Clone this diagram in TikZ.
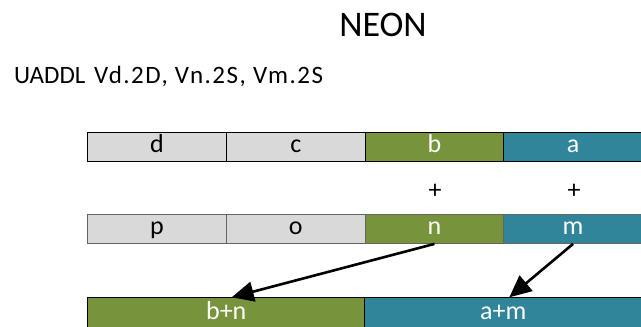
\documentclass[tikz,border=0pt]{standalone}
\usepackage{fontspec}
\setmainfont{Carlito}
\usetikzlibrary{arrows.meta}
\definecolor{cellgray}{RGB}{217,217,217}
\definecolor{cellgreen}{RGB}{119,147,60}
\definecolor{cellblue}{RGB}{49,133,155}
\definecolor{rowtwoline}{RGB}{100,100,100}
\tikzset{
  cell/.style={rectangle, draw=black, line width=0.9pt, inner sep=0pt, anchor=north west,
    minimum width=138.6pt, minimum height=28.7pt, font=\fontsize{26}{28}\selectfont,
    text height=17pt, text depth=5.5pt},
  graycell/.style={cell, fill=cellgray, text=black},
  greencell/.style={cell, fill=cellgreen, text=white},
  bluecell/.style={cell, fill=cellblue, text=white},
  widecell/.style={minimum width=277pt, minimum height=31pt},
  rowtwo/.style={draw=rowtwoline},
  plus/.style={font=\fontsize{26}{28}\selectfont, inner sep=0pt},
  arr/.style={line width=2.6pt, -{Triangle[length=22pt,width=20pt]}}
}
\begin{document}
\begin{tikzpicture}[x=1pt,y=-1pt]
\useasboundingbox (0,0) rectangle (641,327);
\clip (0,0) rectangle (641,327);
\node[font=\fontsize{36}{40}\selectfont, anchor=base, inner sep=0pt] (title) at (383,36.7) {NEON};
\node[font=\fontsize{25}{27}\selectfont, anchor=base west, inner sep=0pt] (instr) at (14,83.5)
  {\makebox[80pt][l]{UADDL}{\addfontfeature{LetterSpace=6}Vd.2D, Vn.2S, Vm.2S}};
% row 1
\node[graycell] (d) at (87.3,132.3) {d};
\node[graycell] (c) at (226,132.3) {c};
\node[greencell] (b) at (364.7,132.3) {b};
\node[bluecell] (a) at (503.3,132.3) {a};
% plus
\node[plus] (p1) at (435,191.7) {+};
\node[plus] (p2) at (574,191.7) {+};
% row 2
\node[graycell, rowtwo] (p) at (87.3,214.3) {p};
\node[graycell, rowtwo] (o) at (226,214.3) {o};
\node[greencell, rowtwo] (n) at (364.7,214.3) {n};
\node[bluecell, rowtwo] (m) at (503.3,214.3) {m};
% row 3
\node[greencell, widecell] (bn) at (87.3,297.3) {b+n};
\node[bluecell, widecell] (am) at (364.3,297.3) {a+m};
% arrows
\coordinate (bntip) at (231.7,296.7);
\coordinate (amtip) at (509.3,296.7);
\draw[arr] (n.south) -- (bn.north -| bntip);
\draw[arr] (m.south) -- (am.north -| amtip);
\end{tikzpicture}
\end{document}
